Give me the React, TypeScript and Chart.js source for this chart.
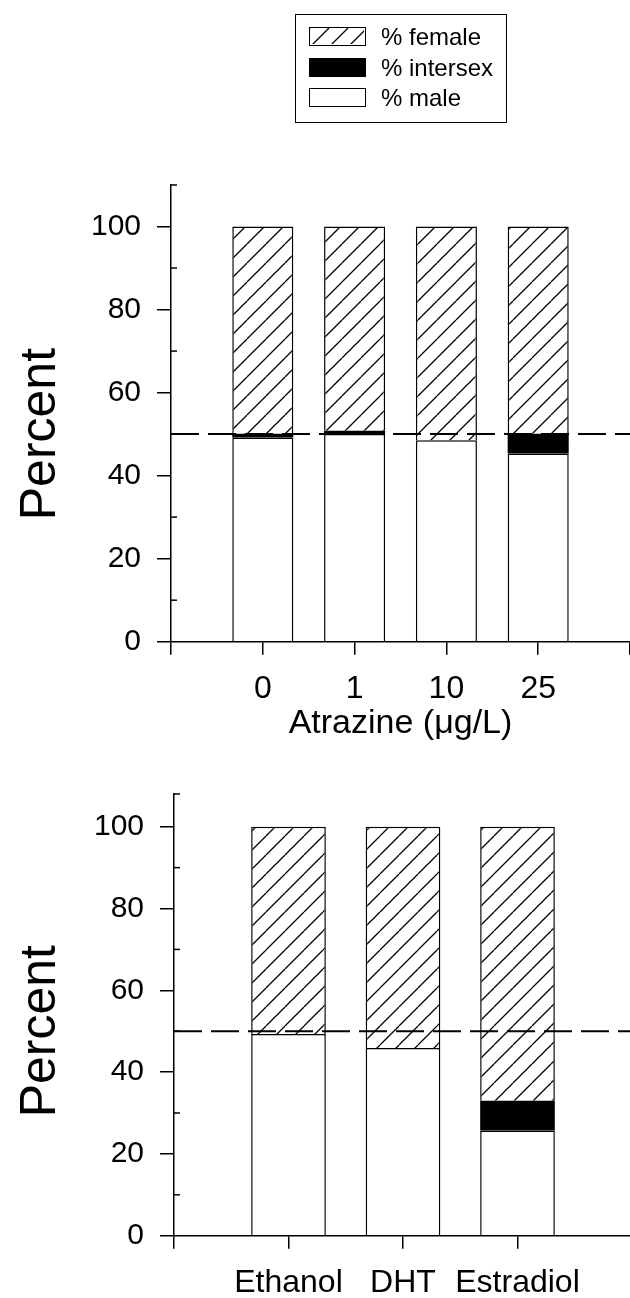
import React, { useEffect, useRef } from 'react';
import { Chart, registerables } from 'chart.js';

Chart.register(...registerables);

// ---- data ----
const ATRAZINE_LABELS = ['', '0', '1', '10', '25', ''];
const ATRAZINE_MALE = [null, 49.2, 50.0, 48.5, 45.3, null];
const ATRAZINE_INTERSEX = [null, 0.9, 0.8, 0, 4.8, null];
const ATRAZINE_FEMALE = [null, 49.9, 49.2, 51.5, 49.9, null];

const HORMONE_LABELS = ['', 'Ethanol', 'DHT', 'Estradiol', ''];
const HORMONE_MALE = [null, 49.3, 45.9, 25.7, null];
const HORMONE_INTERSEX = [null, 0, 0, 7.3, null];
const HORMONE_FEMALE = [null, 50.7, 54.1, 67.0, null];

const REFERENCE_LINE = 50;
const Y_TICKS = [0, 20, 40, 60, 80, 100];
const MINOR_TICKS = [10, 30, 50, 70, 90];
const LEGEND_LABELS = ['% female', '% intersex', '% male'];
const Y_TITLE = 'Percent';
const X_TITLE_TOP = 'Atrazine (\u03BCg/L)';

const FAMILY = "'Liberation Sans', Arial, Helvetica, sans-serif";

function makeHatch(): CanvasPattern {
  const s = 19;
  const c = document.createElement('canvas');
  c.width = s;
  c.height = s;
  const g = c.getContext('2d')!;
  g.fillStyle = '#fff';
  g.fillRect(0, 0, s, s);
  g.strokeStyle = '#000';
  g.lineWidth = 1.3;
  g.beginPath();
  for (const k of [-s, 0, s]) {
    g.moveTo(k, s);
    g.lineTo(k + s, 0);
  }
  g.stroke();
  return g.createPattern(c, 'repeat')!;
}

const axisExtras = {
  id: 'axisExtras',
  afterDraw(chart: any, _args: any, opts: any) {
    const y = chart.scales.y;
    const ctx = chart.ctx as CanvasRenderingContext2D;
    const x0 = chart.chartArea.left;
    ctx.save();
    ctx.strokeStyle = '#000';
    ctx.lineWidth = 1.5;
    const marks = [...(opts.minor || []), y.max];
    for (const v of marks) {
      const py = y.getPixelForValue(v);
      ctx.beginPath();
      ctx.moveTo(x0, py);
      ctx.lineTo(x0 + 6, py);
      ctx.stroke();
    }
    const cy = y.getPixelForValue((Y_TICKS[0] + Y_TICKS[Y_TICKS.length - 1]) / 2);
    ctx.translate(opts.titleX, cy);
    ctx.rotate(-Math.PI / 2);
    ctx.fillStyle = '#000';
    ctx.font = `${opts.titleSize}px ${FAMILY}`;
    ctx.textAlign = 'center';
    ctx.textBaseline = 'alphabetic';
    ctx.fillText(opts.title, 0, 0);
    ctx.restore();
  },
};

function buildConfig(p: any, hatch: CanvasPattern): any {
  const ref = p.labels.map(() => REFERENCE_LINE);
  const barCommon = {
    order: 1,
    barPercentage: p.barPct,
    categoryPercentage: 1,
    borderColor: '#000',
    borderSkipped: false,
  };
  return {
    type: 'bar',
    data: {
      labels: p.labels,
      datasets: [
        {
          type: 'line',
          data: ref,
          borderColor: '#000',
          borderWidth: 2,
          borderDash: [28, 9],
          pointRadius: 0,
          fill: false,
          order: 0,
        },
        {
          ...barCommon,
          label: LEGEND_LABELS[2],
          data: p.male,
          backgroundColor: '#fff',
          borderWidth: { top: 1.5, left: 1.5, right: 1.5, bottom: 0 },
        },
        {
          ...barCommon,
          label: LEGEND_LABELS[1],
          data: p.intersex,
          backgroundColor: '#000',
          borderWidth: 0,
        },
        {
          ...barCommon,
          label: LEGEND_LABELS[0],
          data: p.female,
          backgroundColor: hatch,
          borderWidth: { top: 1.5, left: 1.5, right: 1.5, bottom: 0 },
        },
      ],
    },
    options: {
      animation: false,
      responsive: false,
      devicePixelRatio: 1,
      layout: { padding: { top: p.padTop, right: p.padRight, bottom: p.padBottom, left: 0 } },
      plugins: {
        legend: { display: false },
        tooltip: { enabled: false },
        axisExtras: { minor: MINOR_TICKS, title: Y_TITLE, titleX: p.titleX, titleSize: 50 },
      },
      scales: {
        x: {
          type: 'category',
          offset: false,
          stacked: true,
          grid: { offset: false, drawOnChartArea: false, drawTicks: true, tickLength: 13, color: '#000', lineWidth: 1.5 },
          border: { display: true, color: '#000', width: 1.5 },
          ticks: { autoSkip: false, maxRotation: 0, minRotation: 0, padding: 15, color: '#000', font: { family: FAMILY, size: 32 } },
          title: p.xTitle
            ? { display: true, text: p.xTitle, color: '#000', padding: 0, font: { family: FAMILY, size: 34 } }
            : { display: false },
          afterFit: (s: any) => {
            s.height = p.xHeight;
            s.paddingLeft = 0;
            s.paddingRight = 0;
          },
        },
        y: {
          type: 'linear',
          min: 0,
          max: p.yMax,
          stacked: true,
          afterBuildTicks: (s: any) => {
            s.ticks = Y_TICKS.map((v) => ({ value: v }));
          },
          grid: { drawOnChartArea: false, drawTicks: true, tickLength: 14, color: '#000', lineWidth: 1.5 },
          border: { display: true, color: '#000', width: 1.5 },
          ticks: { padding: 16, color: '#000', font: { family: FAMILY, size: 30 } },
          afterFit: (s: any) => {
            s.width = p.yWidth;
          },
        },
      },
    },
    plugins: [axisExtras],
  };
}

export default function App() {
  const topRef = useRef<HTMLCanvasElement>(null);
  const botRef = useRef<HTMLCanvasElement>(null);
  const swRef = useRef<HTMLCanvasElement>(null);

  useEffect(() => {
    const hatch = makeHatch();
    const c1 = new Chart(
      topRef.current!,
      buildConfig(
        {
          labels: ATRAZINE_LABELS,
          male: ATRAZINE_MALE,
          intersex: ATRAZINE_INTERSEX,
          female: ATRAZINE_FEMALE,
          yMax: 110,
          barPct: 0.665,
          padTop: 55,
          padRight: 0,
          padBottom: 16,
          xHeight: 102.3,
          yWidth: 171,
          titleX: 55,
          xTitle: X_TITLE_TOP,
        },
        hatch
      )
    );
    const c2 = new Chart(
      botRef.current!,
      buildConfig(
        {
          labels: HORMONE_LABELS,
          male: HORMONE_MALE,
          intersex: HORMONE_INTERSEX,
          female: HORMONE_FEMALE,
          yMax: 108,
          barPct: 0.652,
          padTop: 30,
          padRight: 8,
          padBottom: 0,
          xHeight: 62.3,
          yWidth: 174,
          titleX: 55,
          xTitle: null,
        },
        hatch
      )
    );
    const sw = swRef.current;
    if (sw) {
      const g = sw.getContext('2d')!;
      g.fillStyle = makeHatch();
      g.fillRect(0, 0, sw.width, sw.height);
    }
    return () => {
      c1.destroy();
      c2.destroy();
    };
  }, []);

  const rowStyle = (top: number): React.CSSProperties => ({
    position: 'absolute',
    left: 13,
    top,
    height: 19,
    display: 'flex',
    alignItems: 'center',
  });
  const swatchBox: React.CSSProperties = {
    width: 57,
    height: 19,
    boxSizing: 'border-box',
    border: '1.5px solid #000',
    flex: 'none',
  };
  const textStyle: React.CSSProperties = {
    marginLeft: 15,
    fontFamily: FAMILY,
    fontSize: 24,
    color: '#000',
    whiteSpace: 'nowrap',
    lineHeight: '19px',
  };

  return (
    <div style={{ position: 'absolute', left: 0, top: 0, width: 630, height: 1298, overflow: 'hidden', background: '#fff' }}>
      <div
        style={{
          position: 'absolute',
          left: 295,
          top: 14,
          width: 212,
          height: 109,
          boxSizing: 'border-box',
          border: '1.5px solid #000',
        }}
      >
        <div style={rowStyle(12)}>
          <div style={{ ...swatchBox, padding: 0, overflow: 'hidden' }}>
            <canvas ref={swRef} width={54} height={16} style={{ display: 'block' }} />
          </div>
          <span style={textStyle}>{LEGEND_LABELS[0]}</span>
        </div>
        <div style={rowStyle(43)}>
          <div style={{ ...swatchBox, background: '#000' }} />
          <span style={textStyle}>{LEGEND_LABELS[1]}</span>
        </div>
        <div style={rowStyle(73)}>
          <div style={{ ...swatchBox, background: '#fff' }} />
          <span style={textStyle}>{LEGEND_LABELS[2]}</span>
        </div>
      </div>
      <canvas ref={topRef} width={630} height={630} style={{ position: 'absolute', left: 0, top: 130, width: 630, height: 630 }} />
      <canvas ref={botRef} width={640} height={538} style={{ position: 'absolute', left: 0, top: 760, width: 640, height: 538 }} />
    </div>
  );
}
